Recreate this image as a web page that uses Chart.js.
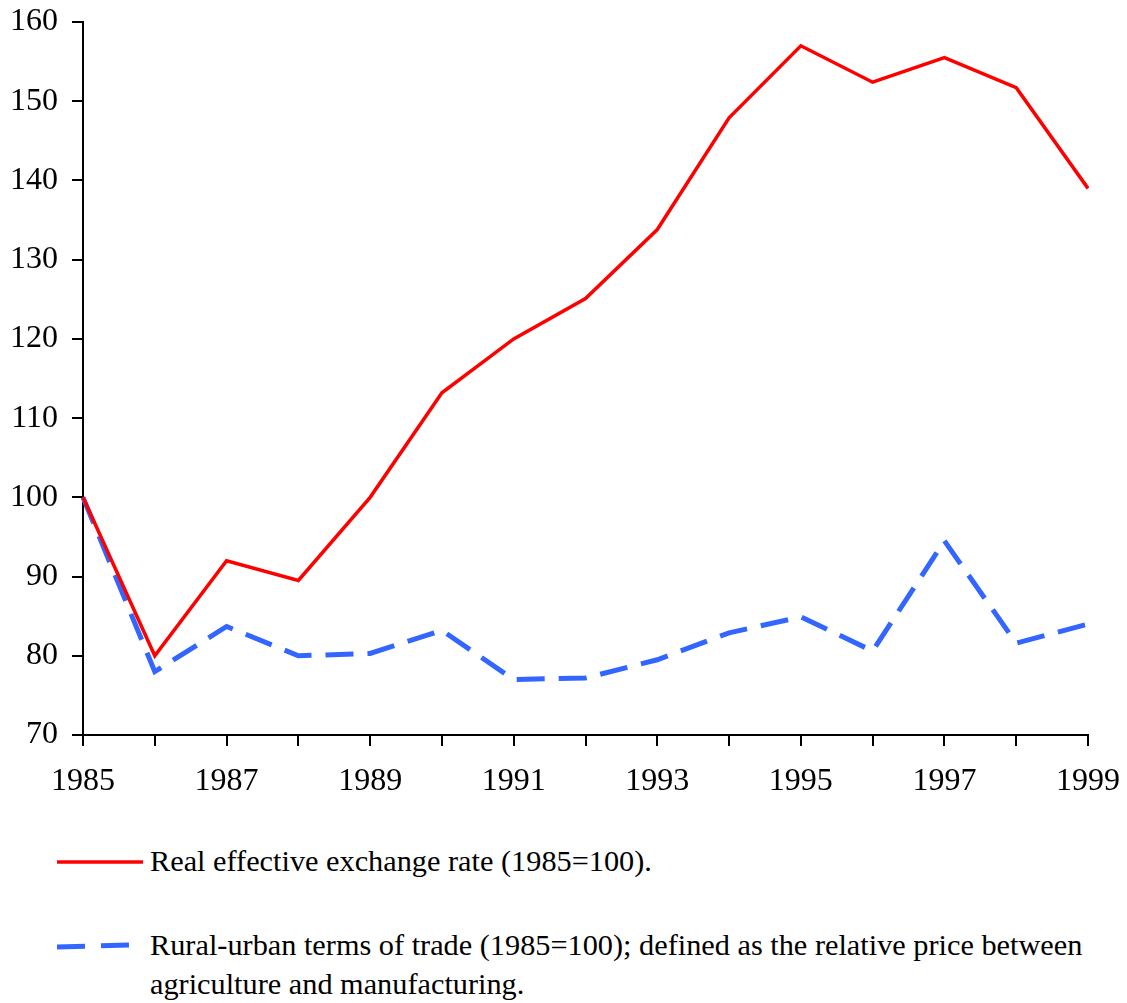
<!DOCTYPE html>
<html>
<head>
<meta charset="utf-8">
<script src="https://cdn.jsdelivr.net/npm/chart.js@4"></script>
<style>
  body { margin: 0; background: #fff; font-family: "Liberation Serif", "Times New Roman", serif; }
  #wrap { position: relative; width: 1127px; height: 1003px; }
  #chart_box { position: absolute; left: 0; top: 0; width: 1127px; height: 810px; }
  .leg { position: absolute; font-size: 30.3px; color: #000; line-height: 39px; white-space: nowrap; }
  .swatch { position: absolute; }
</style>
</head>
<body>
<div id="wrap">
  <div id="chart_box"><canvas id="graph_rer"></canvas></div>
  <svg class="swatch" style="left:0;top:840px" width="150" height="130">
    <line x1="57" y1="22" x2="143" y2="22" stroke="#ff0000" stroke-width="3.5"/>
    <line x1="57" y1="107" x2="131" y2="105" stroke="#3366ff" stroke-width="5" stroke-dasharray="28,16"/>
  </svg>
  <div class="leg" style="left:150px;top:842px">Real effective exchange rate (1985=100).</div>
  <div class="leg" style="left:150px;top:926px">Rural-urban terms of trade (1985=100); defined as the relative price between<br>agriculture and manufacturing.</div>
</div>
<script>
/*------------------------------*/
/*     Data                     */
/*------------------------------*/
var years = ['1985', '1986', '1987', '1988', '1989', '1990', '1991', '1992',
             '1993', '1994', '1995', '1996', '1997', '1998', '1999']
var rer = [100, 80, 92, 89.5, 100, 113.2, 120, 125.1, 133.8, 147.9, 157, 152.4, 155.5, 151.7, 139]
var tot = [100, 78, 83.7, 80, 80.3, 83.2, 77, 77.2, 79.5, 82.9, 84.9, 80.6, 94.5, 81.6, 84]

var ctx_rer = document.getElementById('graph_rer').getContext('2d')

var data_rer = {
    labels: years,
    datasets: [
        {
            label: 'Real effective exchange rate (1985=100).',
            data: rer,
            fill: false,
            borderColor: 'rgb(255, 0, 0)',
            borderWidth: 3.5,
            pointRadius: 0,
            tension: 0
        },
        {
            label: 'Rural-urban terms of trade (1985=100)',
            data: tot,
            fill: false,
            borderColor: 'rgb(51, 102, 255)',
            borderWidth: 5,
            borderDash: [28, 14],
            pointRadius: 0,
            tension: 0
        }
    ]
}

var tickFont = { family: "'Liberation Serif', 'Times New Roman', serif", size: 32 }

var config_rer = {
    type: 'line',
    data: data_rer,
    options: {
        responsive: true,
        maintainAspectRatio: false,
        animation: false,
        layout: { padding: { top: 22, right: 39, left: 0, bottom: 0 } },
        plugins: {
            legend: { display: false },
            tooltip: { enabled: false }
        },
        scales: {
            x: {
                offset: false,
                grid: { drawOnChartArea: false, tickLength: 11, color: '#000', lineWidth: 2 },
                border: { color: '#000', width: 2 },
                ticks: {
                    color: '#000',
                    font: tickFont,
                    autoSkip: false,
                    maxRotation: 0,
                    padding: 16,
                    callback: function (v, i) { return i % 2 === 0 ? years[i] : '' }
                },
                afterFit: function (s) { s.height = 75; s.paddingLeft = 0; s.paddingRight = 0 }
            },
            y: {
                min: 70,
                max: 160,
                grid: { drawOnChartArea: false, tickLength: 11, color: '#000', lineWidth: 2 },
                border: { color: '#000', width: 2 },
                ticks: { stepSize: 10, color: '#000', font: tickFont, padding: 14 },
                afterFit: function (s) { s.width = 83; s.paddingTop = 0; s.paddingBottom = 0 }
            }
        }
    }
}
var graph_rer = new Chart(ctx_rer, config_rer)
</script>
</body>
</html>
